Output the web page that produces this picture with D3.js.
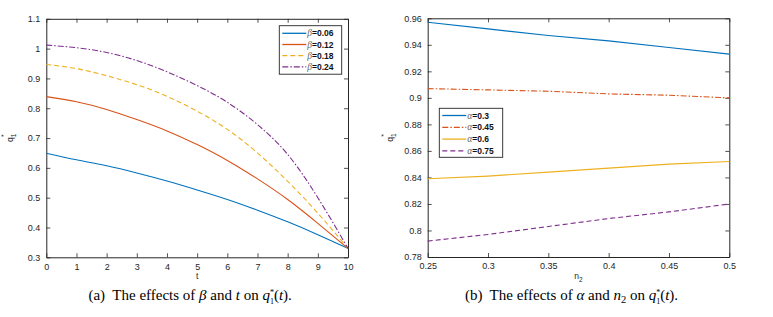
<!DOCTYPE html>
<html><head><meta charset="utf-8">
<script src="https://cdn.jsdelivr.net/npm/d3@7"></script>
<style>
body{margin:0;background:#fff;}
svg{display:block;}
text{font-family:'Liberation Sans',Arial,sans-serif;}
text.cap, text.cap tspan{font-family:'Liberation Serif','Times New Roman',serif;}
tspan.sym{font-family:'Liberation Serif','Times New Roman',serif;}
</style></head>
<body>
<svg id="chart" width="773" height="317"></svg>
<script>
// ---- data: panel (a)
const tValues = [0,1,2,3,4,5,6,7,8,9,10];
const betaLabels = ["0.06","0.12","0.18","0.24"];
const qBeta006 = [0.649,0.627,0.607,0.583,0.556,0.526,0.494,0.458,0.419,0.376,0.330];
const qBeta012 = [0.839,0.822,0.796,0.762,0.724,0.678,0.625,0.563,0.494,0.414,0.330];
const qBeta018 = [0.947,0.933,0.909,0.879,0.840,0.790,0.729,0.650,0.555,0.448,0.330];
const qBeta024 = [1.012,1.003,0.987,0.960,0.922,0.876,0.820,0.745,0.645,0.500,0.330];
const tTicks = [0,1,2,3,4,5,6,7,8,9,10];
const qTicksA = [0.3,0.4,0.5,0.6,0.7,0.8,0.9,1.0,1.1];
// ---- data: panel (b)
const n2Values = [0.25,0.30,0.35,0.40,0.45,0.50];
const alphaLabels = ["0.3","0.45","0.6","0.75"];
const qAlpha030 = [0.957,0.952,0.947,0.943,0.938,0.933];
const qAlpha045 = [0.907,0.906,0.905,0.903,0.902,0.900];
const qAlpha060 = [0.839,0.841,0.844,0.847,0.850,0.852];
const qAlpha075 = [0.792,0.797,0.803,0.809,0.814,0.820];
const n2Ticks = [0.25,0.3,0.35,0.4,0.45,0.5];
const qTicksB = [0.78,0.8,0.82,0.84,0.86,0.88,0.9,0.92,0.94,0.96];

const colors = ["#0072BD","#D95319","#EDB120","#7E2F8E"];
const svg = d3.select("#chart");
const axisColor = "#262626";
const sans = "'Liberation Sans', Arial, sans-serif";
const serif = "'Liberation Serif', 'Times New Roman', serif";

function panel(cfg){
  const g = svg.append("g");
  const x = d3.scaleLinear().domain(cfg.xDomain).range([cfg.x0,cfg.x1]);
  const y = d3.scaleLinear().domain(cfg.yDomain).range([cfg.y1,cfg.y0]);
  const tickLen = 4;
  const bottom = g.append("g").attr("transform",`translate(0,${cfg.y1})`)
    .call(d3.axisBottom(x).tickValues(cfg.xTicks).tickSizeInner(-tickLen).tickSizeOuter(0).tickPadding(6).tickFormat(cfg.xFmt));
  const top = g.append("g").attr("transform",`translate(0,${cfg.y0})`)
    .call(d3.axisTop(x).tickValues(cfg.xTicks).tickSizeInner(-tickLen).tickSizeOuter(0).tickFormat(""));
  const left = g.append("g").attr("transform",`translate(${cfg.x0},0)`)
    .call(d3.axisLeft(y).tickValues(cfg.yTicks).tickSizeInner(-tickLen).tickSizeOuter(0).tickPadding(6).tickFormat(cfg.yFmt));
  const right = g.append("g").attr("transform",`translate(${cfg.x1},0)`)
    .call(d3.axisRight(y).tickValues(cfg.yTicks).tickSizeInner(-tickLen).tickSizeOuter(0).tickFormat(""));
  [bottom,top,left,right].forEach(a=>{
    a.attr("font-family",null).attr("font-size",null);
    a.selectAll("path").attr("stroke",axisColor).attr("stroke-width",1);
    a.selectAll("line").attr("stroke",axisColor).attr("stroke-width",0.8);
    a.selectAll("text").attr("fill",axisColor).style("font-size","9px").style("font-family",sans);
  });
  const line = d3.line().x((d,i)=>x(cfg.xs[i])).y(d=>y(d)).curve(cfg.curve);
  cfg.series.forEach((s,i)=>{
    g.append("path").datum(s).attr("d",line).attr("fill","none")
      .attr("stroke",colors[i]).attr("stroke-width",1.1)
      .attr("stroke-dasharray",cfg.dashes[i]);
  });
  const L = cfg.legend;
  const lg = g.append("g");
  lg.append("rect").attr("x",L.x).attr("y",L.y).attr("width",L.w).attr("height",L.h)
    .attr("fill","#fff").attr("stroke",axisColor).attr("stroke-width",0.9);
  cfg.labels.forEach((lab,i)=>{
    const yy = L.y + L.first + i*L.step;
    lg.append("line").attr("x1",L.x+3).attr("x2",L.x+27).attr("y1",yy).attr("y2",yy)
      .attr("stroke",colors[i]).attr("stroke-width",1.3).attr("stroke-dasharray",cfg.dashes[i]);
    const t = lg.append("text").attr("x",L.x+28).attr("y",yy+3).style("font-size","8.5px").style("font-family",sans).attr("fill","#000");
    t.append("tspan").attr("class","sym").text(cfg.symbol).style("font-family",serif).style("font-style","italic").attr("fill","#666").style("font-size","9.5px");
    t.append("tspan").text("="+lab).style("font-weight","bold").attr("fill","#111");
  });
  const xl = g.append("text").attr("x",(cfg.x0+cfg.x1)/2).attr("y",cfg.y1+22).attr("text-anchor","middle")
    .style("font-size","8.5px").style("font-family",sans).attr("fill",axisColor);
  xl.append("tspan").text(cfg.xLabel);
  if(cfg.xSub) xl.append("tspan").text(cfg.xSub).attr("dy",3).style("font-size","6.5px");
  const yl = g.append("g").attr("transform",`translate(${cfg.yLabelX},${(cfg.y0+cfg.y1)/2}) rotate(-90)`);
  const yt = yl.append("text").attr("x",-4).attr("y",0).attr("fill",axisColor).style("font-size","8.5px").style("font-family",sans);
  yt.append("tspan").text("q");
  yt.append("tspan").text("1").attr("dy",3).style("font-size","6.5px");
  yl.append("text").attr("x",1).attr("y",-7).attr("fill",axisColor).style("font-size","7px").style("font-family",sans).text("*");
  const cap = g.append("text").attr("class","cap").attr("x",(cfg.x0+cfg.x1)/2 + cfg.capShift).attr("y",300).attr("text-anchor","middle")
    .style("font-family",serif).style("font-size","15px").attr("fill","#000");
  cfg.caption.forEach(p=>{
    const ts = cap.append("tspan").text(p.t).style("font-family",serif);
    if(p.i) ts.style("font-style","italic");
    if(p.dy) ts.attr("dy",p.dy);
    if(p.s) ts.style("font-size",p.s);
    if(p.dx) ts.attr("dx",p.dx);
  });
}

panel({
  x0:46.3,x1:348,y0:18.8,y1:257.3,
  xDomain:[0,10],yDomain:[0.3,1.1],xTicks:tTicks,yTicks:qTicksA,
  xFmt:d3.format("d"), yFmt:d=>d===1?"1":d3.format(".1f")(d),
  xs:tValues, series:[qBeta006,qBeta012,qBeta018,qBeta024],
  curve:d3.curveNatural,
  dashes:[null,null,"5,3","6,2,1.5,2"],
  legend:{x:279.3,y:25.7,w:62.4,h:48.5,first:7.6,step:11.2},
  labels:betaLabels, symbol:"\u03B2",
  xLabel:"t", yLabelX:13,
  capShift:-7,
  caption:[{t:"(a)\u00A0 The effects of "},{t:"\u03B2",i:1},{t:" and "},{t:"t",i:1},{t:" on "},{t:"q",i:1},
           {t:"*",dy:-5.5,s:"8px"},{t:"1",dy:9.5,dx:-4,s:"8px"},{t:"(",dy:-4},{t:"t",i:1},{t:")."}]
});
panel({
  x0:427.7,x1:729.3,y0:18.3,y1:257,
  xDomain:[0.25,0.5],yDomain:[0.78,0.96],xTicks:n2Ticks,yTicks:qTicksB,
  xFmt:d=>String(+d.toFixed(2)), yFmt:d=>String(+d.toFixed(2)),
  xs:n2Values, series:[qAlpha030,qAlpha045,qAlpha060,qAlpha075],
  curve:d3.curveLinear,
  dashes:[null,"6,2,1.5,2",null,"5,3"],
  legend:{x:439.3,y:108.3,w:63.4,h:49,first:7.2,step:11.8},
  labels:alphaLabels, symbol:"\u03B1",
  xLabel:"n", xSub:"2", yLabelX:393,
  capShift:-7,
  caption:[{t:"(b)\u00A0 The effects of "},{t:"\u03B1",i:1},{t:" and "},{t:"n",i:1},{t:"2",dy:3,s:"10.5px"},{t:" on ",dy:-3},{t:"q",i:1},
           {t:"*",dy:-5.5,s:"8px"},{t:"1",dy:9.5,dx:-4,s:"8px"},{t:"(",dy:-4},{t:"t",i:1},{t:")."}]
});
</script>
</body></html>
